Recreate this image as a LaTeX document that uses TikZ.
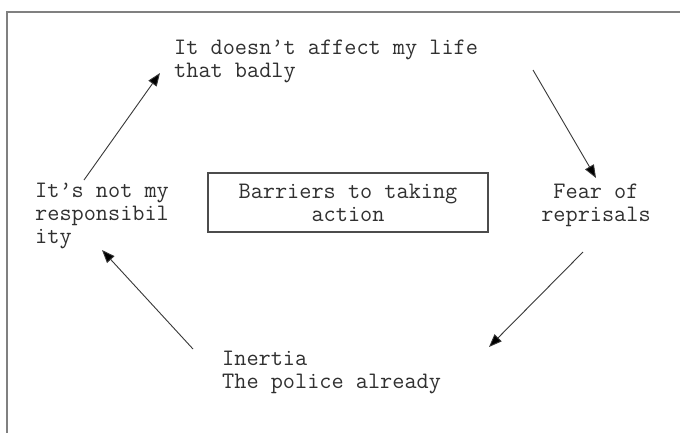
\documentclass[tikz,border=0pt]{standalone}
\usepackage{fontspec}
\usetikzlibrary{arrows.meta}
\definecolor{txt}{HTML}{303030}
\definecolor{ln}{HTML}{383838}
\definecolor{frm}{HTML}{808080}
\tikzset{
  lbl/.style={inner sep=0pt, text=txt, font=\ttfamily\fontsize{23.6}{23}\selectfont},
  arr/.style={draw=ln, line width=0.9pt, -{Triangle[length=13pt,width=10pt,fill=black]}},
  box/.style={draw=ln!90, line width=1.4pt, minimum width=280pt, minimum height=59pt, inner sep=0pt, text=txt, align=center, font=\ttfamily\fontsize{23.6}{23}\selectfont}
}
\begin{document}
\begin{tikzpicture}[x=1pt,y=-1pt]
\useasboundingbox (0,0) rectangle (680,432);
\fill[white] (0,0) rectangle (680,432);
\draw[frm, line width=2pt] (6.5,440) -- (6.5,12) -- (690,12);
\node[lbl, anchor=base west, align=left] (top) at (174,77) {It doesn’t affect my life\\that badly};
\node[lbl, anchor=base west, align=left] (left) at (35,243) {It’s not my\\responsibil\\ity};
\node[box] (ctr) at (348,202.5) {Barriers to taking\\action};
\node[lbl, anchor=base, align=center] (right) at (596,221) {Fear of\\reprisals};
\node[lbl, anchor=base west, align=left] (bot) at (222,388) {Inertia\\The police already};
\coordinate (a1s) at (84,180); \coordinate (a1e) at (160,73);
\coordinate (a2s) at (533,70); \coordinate (a2e) at (596,178);
\coordinate (a3s) at (583,252); \coordinate (a3e) at (489,347);
\coordinate (a4s) at (193,349); \coordinate (a4e) at (102,250);
\draw[arr] (a1s) -- (a1e);
\draw[arr] (a2s) -- (a2e);
\draw[arr] (a3s) -- (a3e);
\draw[arr] (a4s) -- (a4e);
\end{tikzpicture}
\end{document}
